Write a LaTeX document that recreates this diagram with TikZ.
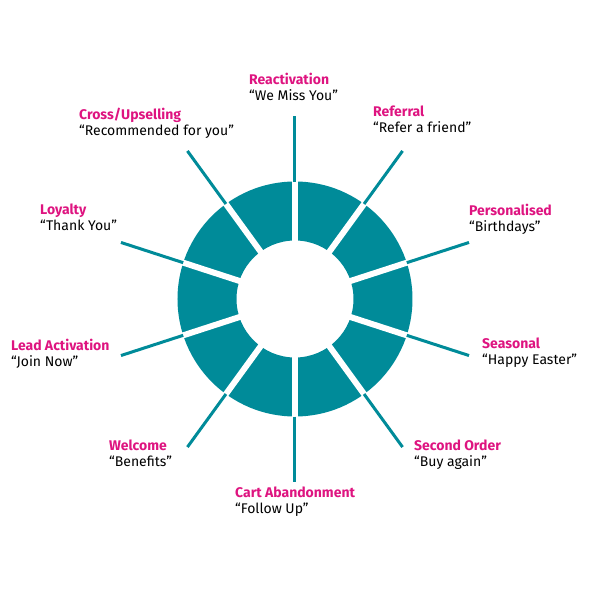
\documentclass[tikz,border=0pt]{standalone}
\usepackage{fontspec}
\setmainfont{Fira Sans}
\usepackage{xcolor}
\usepackage{tikz}
\usetikzlibrary{positioning}
\definecolor{ringteal}{RGB}{0,139,153}
\definecolor{lblmagenta}{RGB}{222,20,128}
\newcommand{\ttlname}[1]{\textcolor{lblmagenta}{\bfseries #1}}

\begin{document}
\begin{tikzpicture}[
  x=1pt, y=1pt,
  spoke/.style={ringteal, line width=3pt},
  gapline/.style={white, line width=6pt},
  lbl/.style={anchor=north west, inner sep=0pt, align=left, font=\fontsize{14}{16}\selectfont}
]
\useasboundingbox (-295,-291) rectangle (295,299);

% Ring
\fill[ringteal, even odd rule] (0,0) circle (117.5) (0,0) circle (58.5);

% Gaps and spokes
\foreach \a/\n in {90/react, 54/refer, 18/pers, -18/seas, -54/second, -90/cart, -126/welc, -162/lead, 162/loyal, 126/cross} {
  \draw[gapline] (\a:55) -- (\a:121);
  \coordinate (\n-in) at (\a:117.5);
  \coordinate (\n-out) at (\a:183);
  \draw[spoke] (\n-in) -- (\n-out);
}

% Labels
\node[lbl] (l-react)  at (-46,226)  {\ttlname{Reactivation}\\“We Miss You”};
\node[lbl] (l-refer)  at (78,193)   {\ttlname{Referral}\\“Refer a friend”};
\node[lbl] (l-pers)   at (174,95)   {\ttlname{Personalised}\\“Birthdays”};
\node[lbl] (l-seas)   at (187,-39)  {\ttlname{Seasonal}\\“Happy Easter”};
\node[lbl] (l-second) at (119,-141) {\ttlname{Second Order}\\“Buy again”};
\node[lbl] (l-cart)   at (-60,-188) {\ttlname{Cart Abandonment}\\“Follow Up”};
\node[lbl] (l-welc)   at (-186,-141){\ttlname{Welcome}\\“Benefits”};
\node[lbl] (l-lead)   at (-284,-40) {\ttlname{Lead Activation}\\“Join Now”};
\node[lbl] (l-loyal)  at (-255,95)  {\ttlname{Loyalty}\\“Thank You”};
\node[lbl] (l-cross)  at (-216,191) {\ttlname{Cross/Upselling}\\“Recommended for you”};

\end{tikzpicture}
\end{document}
